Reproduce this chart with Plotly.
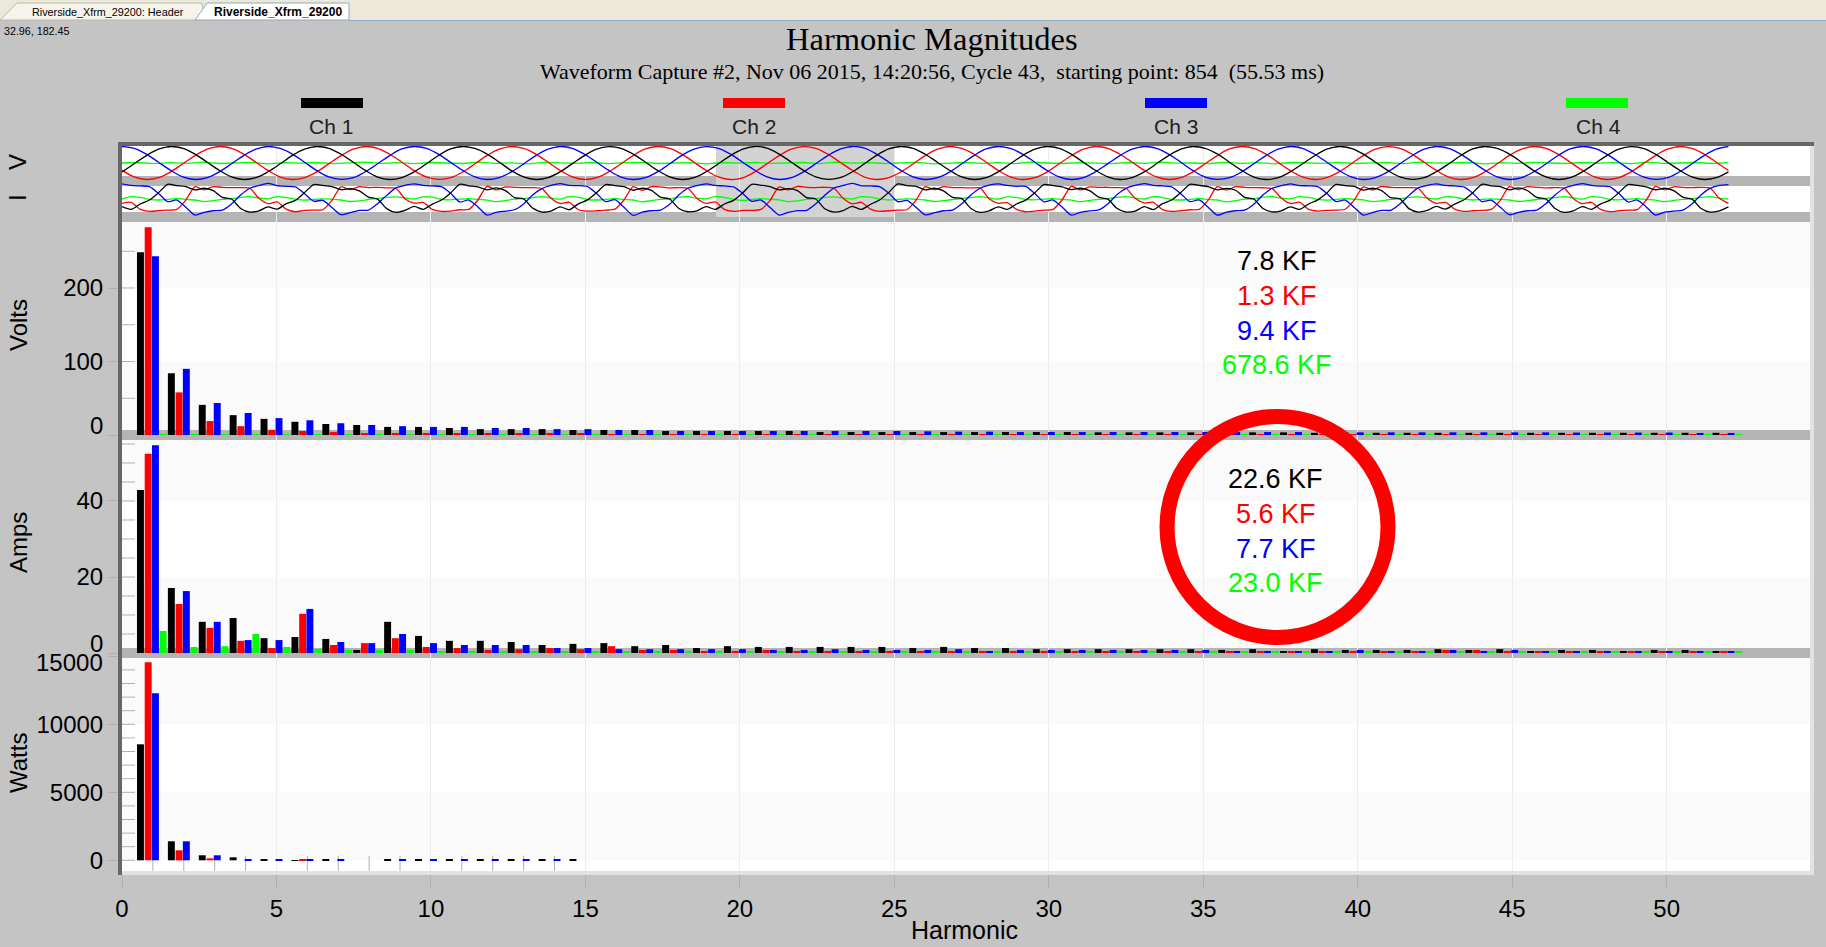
import numpy as np
import plotly.graph_objects as go

W = 1826
H = 947

harmonics = list(range(1, 53))

volts_ch1 = [248.6, 84, 41, 27, 22, 18, 15, 13.6, 11, 11, 9.5, 8, 8, 8, 6.8, 6.8, 6.8, 5.4, 5.4, 5.4, 5.4, 5.4, 4, 4, 4, 4,
             4, 4, 4, 4, 4, 3.6, 3.6, 3.6, 3.6, 3.6, 3.6, 3.6, 3, 3, 3, 3, 3, 3, 3, 3, 3, 3, 3, 3, 3, 3]
volts_ch2 = [282.6, 58, 19, 12, 7, 5.4, 4, 2.7, 2.7, 2.7, 2.7, 1.4, 1.4, 1.4, 1.4, 1.1, 1.1, 1.1, 1.1, 1.1, 1.1, 1.1, 1.1, 1.1, 1.1, 1.1,
             1.1, 1.1, 1.1, 1.1, 1.1, 1.1, 1.1, 1.1, 1.1, 1.1, 1.1, 1.1, 1.1, 1.1, 1.1, 1.1, 1.1, 1.1, 1.1, 1.1, 1.1, 1.1, 1.1, 1.1, 1.1, 1.1]
volts_ch3 = [243.2, 90, 43.5, 30, 23, 20, 16, 13.6, 12, 11, 11, 9.5, 9.5, 8, 8, 6.8, 6.8, 5.4, 5.4, 5.4, 5.4, 5.4, 5.4, 5.4, 5.4, 5,
             4.5, 4.5, 4, 4, 4, 4, 4, 4, 4, 4, 4, 4, 3.6, 3.6, 3.6, 3.6, 3.6, 3.6, 3.6, 3.6, 3.3, 3.3, 3.3, 3.3, 2.7, 2.7]
volts_ch4 = [1.0, 1.0, 1.0, 1.0, 1.0, 1.0, 1.0, 1.0, 1.0, 1.0, 1.0, 1.0, 1.0, 1.0, 1.0, 1.0, 1.0, 1.0, 1.0, 1.0, 1.0, 1.0, 1.0, 1.0, 1.0, 1.0,
             1.0, 1.0, 1.0, 1.0, 1.0, 1.0, 1.0, 1.0, 1.0, 1.0, 1.0, 1.0, 1.0, 1.0, 1.0, 1.0, 1.0, 1.0, 1.0, 1.0, 1.0, 1.0, 1.0, 1.0, 1.0, 1.0]

amps_ch1 = [42.9, 17.1, 8.2, 9.2, 3.9, 4.2, 3.7, 0.8, 8.2, 4.5, 3.2, 3.2, 2.9, 2.1, 2.4, 2.6, 1.8, 2.1, 1.3, 1.8, 1.6, 1.6, 1.6, 1.6, 1.6, 1.3,
            1.6, 1.3, 1.3, 1.0, 1.0, 1.0, 1.0, 1.0, 1.0, 0.8, 1.0, 0.5, 1.0, 0.8, 0.8, 0.8, 1.0, 0.8, 1.0, 0.5, 0.8, 0.8, 0.5, 0.8, 0.8, 0.5]
amps_ch2 = [52.4, 12.9, 6.6, 3.2, 1.3, 10.3, 2.1, 2.6, 3.9, 1.6, 1.3, 0.8, 1.0, 1.3, 1.0, 1.8, 0.8, 0.8, 0.5, 0.5, 0.8, 0.5, 0.3, 0.5, 0.5, 0.5,
            0.5, 0.5, 0.3, 0.3, 0.3, 0.5, 0.3, 0.5, 0.3, 0.5, 0.5, 0.3, 0.5, 0.5, 0.5, 0.5, 0.8, 0.8, 0.5, 0.5, 0.5, 0.5, 0.5, 0.3, 0.3, 0.3]
amps_ch3 = [54.7, 16.3, 8.2, 3.4, 3.4, 11.6, 2.9, 2.6, 5.0, 2.6, 2.1, 2.1, 2.1, 1.3, 1.3, 1.0, 1.0, 1.0, 1.0, 1.0, 0.8, 0.8, 1.0, 0.8, 0.8, 0.8,
            1.0, 0.5, 0.8, 0.8, 0.8, 0.8, 0.8, 0.8, 0.8, 0.5, 0.3, 0.5, 0.3, 0.8, 0.5, 0.5, 0.8, 0.3, 0.8, 0.5, 0.5, 0.5, 0.3, 0.3, 0.5, 0.3]
amps_ch4 = [5.8, 1.6, 1.8, 5.0, 1.6, 1.1, 0.8, 0.8, 0.8, 0.3, 0.5, 0.5, 0.5, 0.5, 0.5, 0.5, 0.5, 0.5, 0.3, 0.3, 0.5, 0.3, 0.3, 0.3, 0.5, 0.3,
            0.3, 0.3, 0.3, 0.3, 0.3, 0.3, 0.3, 0.3, 0.3, 0.3, 0.3, 0.3, 0.3, 0.3, 0.3, 0.3, 0.3, 0.3, 0.3, 0.3, 0.3, 0.3, 0.3, 0.3, 0.3, 0.3]

watts_ch1 = [8529, 1397, 368, 220, 50, -50, 50, 0, 50, 50, 50, 50, 50, 50, 50]
watts_ch2 = [14559, 735, 147, 0, 0, 50, 0, 0, 0, 0, 0, 0, 0, 0, 0]
watts_ch3 = [12279, 1397, 368, 50, 50, 50, 50, 0, 50, 50, 50, 50, 50, 50, 0]

# waveform strip, scaled so the peak is about 1
v_ch1 = [-.54, -.05, .45, .84, 1.0, .89, .54, .05, -.45, -.84, -1.0, -.89, -.53, -.05, .46, .84, 1.0, .89, .53, .05, -.45, -.85, -1.0, -.88,
         -.54, -.06, .45, .85, 1.0, .88, .54, .05, -.46, -.84, -1.0, -.89, -.54, -.04, .45, .84, .99, .89, .54, .06, -.45, -.84, -1.0, -.89,
         -.53, -.05, .45, .84, 1.0, .9, .54, .05, -.45, -.84, -.99, -.89, -.54, -.05, .46, .85, 1.0, .89, .53, .05, -.44, -.84, -1.0, -.89,
         -.54, -.05, .45, .84, 1.0, .89, .54, .04, -.45, -.84, -1.0, -.88, -.54, -.05, .45, .84, 1.0, .89, .55, .05, -.45, -.85, -1.0, -.89,
         -.54, -.05, .44, .84, 1.0, .89, .54, .05, -.45, -.84, -.99, -.89, -.53, -.06, .45, .85, 1.0, .88, .54, .05, -.46, -.84, -1.0, -.89,
         -.54, -.05, .45, .84, .99, .89, .54, .05, -.45, -.84, -1.0, -.89, -.54]
v_ch2 = [-.45, -.84, -1.0, -.89, -.54, -.05, .45, .84, 1.0, .89, .54, .05, -.45, -.85, -1.0, -.88, -.54, -.04, .45, .84, 1.0, .89, .53, .05,
         -.46, -.84, -.99, -.89, -.54, -.05, .46, .84, 1.0, .88, .54, .06, -.45, -.84, -1.0, -.89, -.53, -.05, .45, .85, 1.0, .89, .54, .05,
         -.45, -.84, -1.0, -.9, -.54, -.05, .45, .84, .99, .89, .54, .05, -.44, -.85, -1.0, -.89, -.54, -.06, .45, .84, 1.0, .88, .54, .05,
         -.45, -.84, -1.0, -.89, -.55, -.05, .44, .84, 1.0, .89, .53, .05, -.45, -.84, -1.0, -.89, -.54, -.05, .45, .85, 1.0, .89, .54, .04,
         -.46, -.84, -1.0, -.88, -.54, -.05, .45, .84, .99, .89, .54, .05, -.45, -.85, -1.0, -.89, -.53, -.05, .46, .84, 1.0, .89, .54, .05,
         -.45, -.84, -1.0, -.89, -.54, -.04, .45, .84, 1.0, .88, .54, .05, -.45]
v_ch3 = [1.0, .89, .54, .05, -.45, -.84, -1.0, -.89, -.54, -.05, .45, .84, 1.0, .88, .54, .05, -.46, -.84, -.99, -.89, -.53, -.05, .45, .85,
         1.0, .89, .54, .04, -.45, -.84, -1.0, -.88, -.54, -.06, .45, .84, 1.0, .89, .53, .05, -.45, -.85, -1.0, -.89, -.54, -.05, .46, .84,
         .99, .89, .54, .05, -.44, -.84, -1.0, -.89, -.54, -.05, .45, .84, 1.0, .9, .54, .06, -.45, -.84, -1.0, -.89, -.55, -.05, .45, .85,
         1.0, .88, .54, .05, -.45, -.84, -1.0, -.89, -.53, -.04, .45, .84, 1.0, .89, .54, .05, -.46, -.85, -.99, -.89, -.54, -.05, .45, .84,
         1.0, .89, .53, .05, -.45, -.84, -1.0, -.88, -.54, -.05, .44, .84, 1.0, .89, .54, .05, -.45, -.84, -1.0, -.89, -.54, -.06, .45, .85,
         1.0, .89, .54, .05, -.45, -.84, -.99, -.89, -.53, -.05, .45, .84, 1.0]
v_ch4 = [.0, .03, -.04, .02, -.02, .05, -.03, .01, .04, -.05, .02, -.01, .03, -.04, .0, .05, -.02, .02, -.04, .03, .0, -.03, .05, -.02, .01,
         -.05, .04, .0, -.02, .03, -.04, .02, .04, -.03, .0, .02, -.05, .03, -.01, .04, -.02, .0, .03, -.04, .05, -.01, .02, -.03, .01, .04,
         -.05, .0, .03, -.02, .02, -.04, .05, .0, -.03, .02, .01, -.04, .03, -.02, .05, -.01, .0, -.03, .04, -.02, .02, -.05, .03, .0, -.02,
         .04, -.03, .01, .02, -.04, .05, -.01, .0, .03, -.05, .02, -.02, .04, .0, -.03, .03, -.01, .02, -.04, .05, -.02, .0, .03, -.03, .02]

i_ch1 = [-.43, -.6, -.27, -.03, .41, .92, .84, .78, .58, .68, .54, .13, .03, -.54, -.76, -.68,
         -.45, -.58, -.25, -.05, .42, .9, .85, .78, .6, .66, .52, .15, .02, -.55, -.78, -.66,
         -.42, -.6, -.28, -.03, .4, .92, .83, .76, .58, .7, .54, .12, .04, -.52, -.76, -.7,
         -.44, -.62, -.26, -.02, .42, .9, .84, .78, .56, .68, .55, .14, .03, -.54, -.74, -.68,
         -.43, -.6, -.27, -.05, .4, .92, .86, .78, .58, .66, .54, .12, .03, -.56, -.76, -.67,
         -.41, -.6, -.29, -.03, .43, .94, .84, .8, .58, .68, .52, .13, .05, -.54, -.78, -.68,
         -.44, -.59, -.27, -.04, .41, .9, .84, .76, .6, .68, .54, .14, .02, -.53, -.76, -.7,
         -.43, -.61, -.25, -.03, .42, .92, .85, .78, .58, .67, .56, .13, .03, -.54, -.75, -.68,
         -.45, -.6, -.27, -.02, .4, .91, .84, .79, .57, .68, .54, .11, .04, -.55, -.76, -.66,
         -.42, -.58, -.28, -.03, .41, .92, .83, .78, .58, .7, .53, .13, .03, -.54, -.78, -.68,
         -.43, -.6, -.26, -.05, .42, .9, .85, .76, .59, .68, .54, .14, .02, -.54, -.76, -.68, -.44]
i_ch2 = [-.23, -.17, -.6, -.72, -.68, -.64, -.6, -.03, .78, .58, .78, .74, .72, .72, .68, .07,
         -.25, -.15, -.58, -.74, -.66, -.64, -.62, -.05, .76, .6, .78, .72, .74, .7, .68, .05,
         -.22, -.18, -.6, -.72, -.7, -.62, -.6, -.02, .8, .58, .76, .74, .72, .72, .66, .08,
         -.24, -.17, -.62, -.7, -.68, -.64, -.58, -.03, .78, .56, .78, .76, .7, .72, .68, .06,
         -.23, -.15, -.6, -.72, -.66, -.66, -.6, -.05, .76, .58, .8, .74, .72, .74, .68, .07,
         -.26, -.17, -.58, -.72, -.68, -.64, -.62, -.03, .78, .6, .78, .72, .72, .7, .7, .05,
         -.23, -.19, -.6, -.74, -.7, -.64, -.6, -.02, .8, .58, .76, .74, .74, .72, .68, .07,
         -.21, -.17, -.61, -.72, -.68, -.62, -.6, -.04, .78, .57, .78, .74, .72, .71, .66, .09,
         -.24, -.16, -.6, -.7, -.66, -.64, -.59, -.03, .76, .58, .79, .73, .72, .72, .68, .07,
         -.23, -.18, -.58, -.72, -.68, -.66, -.6, -.05, .78, .6, .78, .74, .7, .72, .69, .06,
         -.25, -.17, -.6, -.73, -.68, -.64, -.61, -.03, .79, .58, .77, .74, .72, .73, .68, .07, -.23]
i_ch3 = [.95, .85, .82, .78, .37, -.13, -.03, -.47, -.94, -.78, -.68, -.64, -.27, .27, .68, .85,
         .98, .84, .8, .76, .35, -.1, -.05, -.48, -.92, -.8, -.66, -.64, -.25, .25, .7, .86,
         .95, .86, .82, .78, .38, -.15, -.03, -.45, -.94, -.78, -.7, -.62, -.27, .28, .66, .85,
         .96, .85, .84, .78, .36, -.13, -.01, -.47, -.96, -.76, -.68, -.64, -.29, .27, .68, .84,
         .94, .85, .82, .76, .37, -.11, -.03, -.49, -.94, -.78, -.67, -.66, -.27, .26, .69, .85,
         .97, .83, .82, .78, .39, -.13, -.05, -.47, -.93, -.8, -.68, -.64, -.26, .27, .68, .87,
         .95, .85, .8, .79, .37, -.14, -.03, -.46, -.94, -.78, -.69, -.63, -.27, .29, .67, .85,
         .96, .86, .82, .77, .35, -.13, -.02, -.47, -.95, -.77, -.68, -.64, -.28, .27, .68, .84,
         .95, .84, .83, .78, .37, -.12, -.03, -.48, -.94, -.79, -.66, -.65, -.27, .25, .7, .85,
         .94, .85, .82, .76, .38, -.13, -.04, -.47, -.92, -.78, -.68, -.64, -.25, .27, .68, .86,
         .96, .86, .81, .78, .36, -.15, -.03, -.45, -.94, -.76, -.7, -.64, -.27, .28, .67, .85, .9]
i_ch4 = [.03, .17, .13, .01, -.03, .01, .05, .01, -.03, -.13, -.07, .01, .05, .13, .17, .09,
         .04, .18, .12, .02, -.04, .01, .04, .02, -.03, -.12, -.08, .0, .06, .13, .16, .1,
         .03, .16, .14, .01, -.02, .02, .05, .0, -.04, -.13, -.06, .02, .05, .12, .18, .09,
         .02, .17, .13, .0, -.03, .01, .06, .01, -.03, -.14, -.07, .01, .04, .14, .17, .08,
         .04, .18, .12, .01, -.05, .0, .05, .02, -.02, -.13, -.08, .01, .05, .13, .16, .09,
         .03, .17, .14, .02, -.03, .01, .04, .01, -.03, -.12, -.07, .0, .06, .12, .17, .1,
         .02, .16, .13, .01, -.02, .02, .05, .0, -.04, -.13, -.06, .01, .05, .13, .18, .09,
         .03, .18, .12, .0, -.03, .01, .06, .01, -.03, -.14, -.07, .02, .04, .14, .17, .08,
         .04, .17, .13, .01, -.04, .0, .05, .02, -.02, -.13, -.08, .01, .05, .13, .16, .09,
         .03, .16, .14, .02, -.03, .01, .04, .01, -.03, -.12, -.07, .0, .06, .12, .17, .1,
         .02, .17, .13, .01, -.02, .02, .05, .0, -.04, -.13, -.06, .01, .05, .13, .17, .09, .03]

channels = ['Ch 1', 'Ch 2', 'Ch 3', 'Ch 4']
colors = ['#000000', '#ff0000', '#0000ff', '#00ff00']
bar_offsets = [-.515, -.265, -.03, .22]

volts_kf = ['7.8 KF', '1.3 KF', '9.4 KF', '678.6 KF']
amps_kf = ['22.6 KF', '5.6 KF', '7.7 KF', '23.0 KF']

x_ticks = [0, 5, 10, 15, 20, 25, 30, 35, 40, 45, 50]
watts_x_ticks = [1, 2, 3, 4, 6, 7, 8, 9, 11, 12, 13, 14]
volts_major = [0, 100, 200]
volts_minor = [50, 150, 250]
amps_major = [0, 20, 40]
amps_minor = [5, 10, 15, 25, 30, 35, 45, 50, 55]
watts_major = [0, 5000, 10000, 15000]
watts_minor = [1000, 2000, 3000, 4000, 6000, 7000, 8000, 9000, 11000, 12000, 13000, 14000]

BG = '#c4c4c4'
BAND = '#b4b4b4'
STRIPE = '#fafafa'
TICK = '#b0b0b0'
GRID = '#ececec'
SANS = 'Liberation Sans'
SERIF = 'Liberation Serif'

def px(x):
    return x / W

def py(y):
    return 1 - y / H

def dom(top, bottom):
    return [py(bottom), py(top)]

def rect(x0, y0, x1, y1, color, layer='below'):
    return dict(type='rect', xref='paper', yref='paper', x0=px(x0), x1=px(x1), y0=py(y0), y1=py(y1),
                fillcolor=color, line_width=0, layer=layer)

def note(x, y, text, size=24, color='black', family=SANS, anchor='center', angle=0):
    return dict(xref='paper', yref='paper', x=px(x), y=py(y), text=text, showarrow=False, textangle=angle,
                xanchor=anchor, yanchor='middle', font=dict(family=family, size=size, color=color))

fig = go.Figure()

for vals, col, off in zip([volts_ch1, volts_ch2, volts_ch3, volts_ch4], colors, bar_offsets):
    fig.add_trace(go.Bar(x=harmonics, y=vals, width=.225, offset=off, marker_color=col, marker_line_width=0, yaxis='y'))
for vals, col, off in zip([amps_ch1, amps_ch2, amps_ch3, amps_ch4], colors, bar_offsets):
    fig.add_trace(go.Bar(x=harmonics, y=vals, width=.225, offset=off, marker_color=col, marker_line_width=0, yaxis='y2'))
for vals, col, off in zip([watts_ch1, watts_ch2, watts_ch3], colors, bar_offsets):
    fig.add_trace(go.Bar(x=harmonics[:len(vals)], y=vals, width=.225, offset=off, marker_color=col, marker_line_width=0, yaxis='y3'))

for vals, col in zip([v_ch4, v_ch2, v_ch3, v_ch1], [colors[3], colors[1], colors[2], colors[0]]):
    fig.add_trace(go.Scatter(x=np.linspace(0, 52, len(vals)), y=vals, mode='lines', yaxis='y4',
                             line=dict(color=col, width=1.3, shape='spline' if col != colors[3] else 'linear')))
for vals, col in zip([i_ch4, i_ch2, i_ch3, i_ch1], [colors[3], colors[1], colors[2], colors[0]]):
    fig.add_trace(go.Scatter(x=np.linspace(0, 52, len(vals)), y=vals, mode='lines', yaxis='y5',
                             line=dict(color=col, width=1.3, shape='spline', smoothing=.7)))

shapes = [
    # tab strip
    rect(0, 0, W, 20, '#ece9d8'),
    dict(type='path', xref='paper', yref='paper', layer='below', fillcolor='#f6f4ea', line=dict(color='#b8b8a8', width=1),
         path=f'M {px(0)} {py(20)} L {px(17)} {py(3)} L {px(202)} {py(3)} L {px(205)} {py(20)} Z'),
    dict(type='path', xref='paper', yref='paper', layer='below', fillcolor='#ffffff', line=dict(color='#8fa8c8', width=1),
         path=f'M {px(195)} {py(20)} L {px(207)} {py(3)} L {px(349)} {py(3)} L {px(349)} {py(20)} Z'),
    rect(349, 20, W, 21, '#8fa8c8'),
    # plot interior
    rect(122, 146, 1810, 871, '#ffffff'),
    rect(122, 222, 1810, 288, STRIPE),
    rect(122, 361, 1810, 430, STRIPE),
    rect(122, 440, 1810, 501, STRIPE),
    rect(122, 577, 1810, 648, STRIPE),
    rect(122, 658, 1810, 724, STRIPE),
    rect(122, 792, 1810, 860, STRIPE),
    # gray bands
    rect(122, 176, 1810, 186, BAND),
    rect(122, 212, 1810, 222, BAND),
    rect(122, 430, 1810, 440, BAND),
    rect(122, 648, 1810, 658, BAND),
    # selected cycles in the strip
    rect(716, 146, 894, 217, '#d3d3d3'),
    # frame
    rect(118, 142, 1814, 146, '#666666', 'above'),
    rect(118, 142, 122, 875, '#666666', 'above'),
    rect(1810, 146, 1814, 875, '#e2e2e2', 'above'),
    rect(122, 871, 1814, 875, '#e2e2e2', 'above'),
    # ring round the second KF block
    dict(type='circle', xref='paper', yref='paper', x0=px(1167), x1=px(1388), y0=py(416.5), y1=py(637.5),
         line=dict(color='#ff0000', width=15), fillcolor='rgba(0,0,0,0)', layer='above'),
]

# inner halves of the y ticks
for ref, ticks in [('y', volts_major + volts_minor), ('y2', amps_major + amps_minor), ('y3', watts_major + watts_minor)]:
    for t in ticks:
        shapes.append(dict(type='line', xref='paper', yref=ref, x0=px(122), x1=px(135), y0=t, y1=t,
                           line=dict(color=TICK, width=1), layer='below'))

for t in watts_x_ticks:
    shapes.append(dict(type='line', xref='x', yref='paper', x0=t, x1=t, y0=py(856), y1=py(871),
                       line=dict(color=TICK, width=1), layer='below'))

# legend keys
for x0, col in zip([301, 723, 1145, 1566], colors):
    shapes.append(rect(x0, 98, x0 + 62, 108, col))

annotations = [
    note(108, 12, 'Riverside_Xfrm_29200: Header', size=10.8),
    note(278, 12, '<b>Riverside_Xfrm_29200</b>', size=12),
    note(2, 31, '32.96, 182.45', size=10.7, anchor='left'),
    note(932, 39, 'Harmonic Magnitudes', size=32.5, family=SERIF),
    note(932, 71, 'Waveform Capture #2, Nov 06 2015, 14:20:56, Cycle 43,  starting point: 854  (55.53 ms)', size=22, family=SERIF),
    note(18, 162, 'V', angle=-90),
    note(18, 198, 'I', angle=-90),
    note(18, 325, 'Volts', angle=-90),
    note(18, 543, 'Amps', angle=-90),
    note(18, 763, 'Watts', angle=-90),
    note(105, 425, '0', anchor='right'),
    note(105, 643, '0', anchor='right'),
    note(105, 662, '15000', anchor='right'),
    note(964, 930, 'Harmonic', size=25),
]
for name, col, cx in zip(channels, colors, [331, 754, 1176, 1598]):
    annotations.append(note(cx, 126, name, size=21, color='#202020'))
for txt, col, cy in zip(volts_kf, colors, [261, 296, 331, 365]):
    annotations.append(note(1276.5, cy, txt, size=27, color=col))
for txt, col, cy in zip(amps_kf, colors, [479, 514, 549, 583]):
    annotations.append(note(1275.5, cy, txt, size=27, color=col))

y_common = dict(anchor='x', showgrid=False, zeroline=False, showline=False, ticks='outside', ticklen=13, tickcolor=TICK,
                tickfont=dict(family=SANS, size=24, color='black'), tickmode='array')

fig.update_layout(
    width=W, height=H, autosize=False, margin=dict(l=0, r=0, t=0, b=0, autoexpand=False),
    paper_bgcolor=BG, plot_bgcolor='rgba(0,0,0,0)',
    barmode='overlay', showlegend=False, shapes=shapes, annotations=annotations,
    xaxis=dict(domain=[px(122), px(1810)], range=[0, 54.64], anchor='y3', showgrid=True, gridcolor=GRID, gridwidth=1,
               zeroline=False, showline=False, tickmode='array', tickvals=x_ticks, ticks='outside', ticklen=16,
               tickcolor=TICK, tickfont=dict(family=SANS, size=24, color='black')),
    yaxis=dict(domain=dom(222, 440), range=[-6.8, 289.8], tickvals=volts_major, ticktext=['', '100', '200'], **y_common),
    yaxis2=dict(domain=dom(440, 658), range=[-1.316, 56.05], tickvals=amps_major, ticktext=['', '20', '40'], **y_common),
    yaxis3=dict(domain=dom(655, 871), range=[-787, 15096], tickvals=watts_major, ticktext=['0', '5000', '10000', ''], **y_common),
    yaxis4=dict(domain=dom(146, 186), range=[-1.394, 1.03], anchor='x', visible=False, showgrid=False, zeroline=False),
    yaxis5=dict(domain=dom(180, 222), range=[-1.36, 1.18], anchor='x', visible=False, showgrid=False, zeroline=False),
)

fig.write_html("out.html", config=dict(displayModeBar=False), post_script="document.body.style.margin='0';document.body.style.overflow='hidden';")
